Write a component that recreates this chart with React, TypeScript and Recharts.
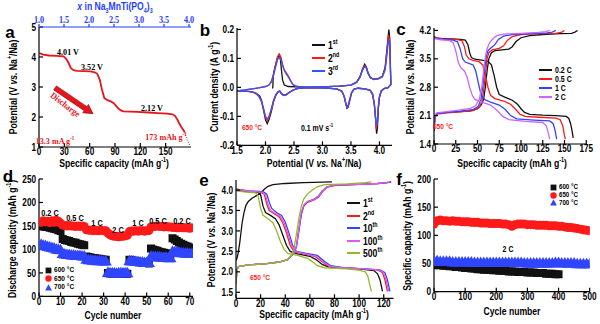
import React from 'react';
import {
  LineChart,
  Line,
  ScatterChart,
  Scatter,
  XAxis,
  YAxis,
  ZAxis,
  ReferenceLine,
} from 'recharts';

const SANS = "'Liberation Sans', Arial, sans-serif";
const SERIF = "'Liberation Serif', 'Times New Roman', serif";
const SX = 0.82; // the figure's lettering is narrow

const RED = '#ff1a1a';
const BLUE = '#2f45ff';
const BLACK = '#111111';
const VIOLET = '#cc66ff';
const MAGENTA = '#dd5ce8';
const OLIVE = '#94b82a';
const TOPBLUE = '#1f3fff';

// ---- (a) first discharge, 13.3 mA/g
const aCurve = [
  [0.5, 4.13], [5, 4.08], [12, 4.05], [21, 4.04], [29, 4.02], [32, 3.95], [35, 3.8], [38, 3.62],
  [41, 3.56], [45, 3.54], [53, 3.53], [61, 3.52], [66, 3.49], [69, 3.44], [72, 3.24], [74.6, 2.91],
  [77.4, 2.63], [81, 2.56], [85, 2.52], [88.5, 2.46], [91, 2.38], [94, 2.28], [97, 2.22], [100, 2.19],
  [116, 2.17], [130, 2.15], [140, 2.13], [152, 2.11], [158, 2.09], [161, 2.04], [164, 1.91],
  [166, 1.79], [168, 1.69], [170.5, 1.58], [172.6, 1.49],
];
const aTopTicks = [1.0, 1.5, 2.0, 2.5, 3.0, 3.5, 4.0];

// ---- (b) CV, 0.1 mV/s
const cv1 = [
  [2.125, -0.004], [2.13, 0.005], [2.135, 0.04], [2.15, 0.055], [2.18, 0.08], [2.21, 0.102], [2.24, 0.112],
  [2.26, 0.1], [2.28, 0.06], [2.3, 0.025], [2.33, 0.008], [2.4, 0.003], [2.55, 0.002], [2.7, 0.001],
  [3.0, 0.002], [3.3, 0.004], [3.5, 0.008], [3.6, 0.018], [3.66, 0.038], [3.7, 0.062], [3.74, 0.08],
  [3.77, 0.07], [3.8, 0.05], [3.84, 0.034], [3.9, 0.028], [3.98, 0.03], [4.05, 0.038], [4.1, 0.07],
  [4.13, 0.13], [4.165, 0.2], [4.18, 0.17], [4.19, 0.09], [4.2, 0.01],
  [4.15, -0.001], [4.08, -0.004], [4.03, -0.014], [4.0, -0.035], [3.98, -0.075], [3.965, -0.14],
  [3.95, -0.16], [3.935, -0.115], [3.91, -0.06], [3.88, -0.025], [3.84, -0.011], [3.75, -0.005],
  [3.62, -0.003], [3.55, -0.007], [3.51, -0.02], [3.48, -0.044], [3.45, -0.068], [3.43, -0.072],
  [3.41, -0.057], [3.38, -0.031], [3.34, -0.013], [3.25, -0.005], [3.0, -0.002], [2.7, -0.002],
  [2.55, -0.004], [2.48, -0.01], [2.42, -0.017], [2.36, -0.025], [2.32, -0.027], [2.28, -0.021],
  [2.25, -0.013], [2.22, -0.016], [2.18, -0.028], [2.14, -0.05], [2.1, -0.085], [2.06, -0.112],
  [2.03, -0.125], [2.0, -0.112], [1.97, -0.082], [1.93, -0.045], [1.9, -0.03], [1.87, -0.026],
  [1.83, -0.02], [1.75, -0.015], [1.6, -0.013], [1.5, -0.012],
];
const cv2 = [
  [1.5, -0.012], [1.6, -0.01], [1.7, -0.007], [1.8, -0.004], [1.9, -0.001], [2.0, 0.003], [2.06, 0.008],
  [2.1, 0.02], [2.14, 0.045], [2.18, 0.08], [2.21, 0.105], [2.24, 0.116], [2.27, 0.105], [2.3, 0.08],
  [2.33, 0.06], [2.36, 0.052], [2.4, 0.04], [2.44, 0.024], [2.48, 0.01], [2.55, 0.003], [2.7, 0.001],
  [3.0, 0.002], [3.3, 0.004], [3.5, 0.008], [3.6, 0.018], [3.66, 0.036], [3.7, 0.06], [3.74, 0.075],
  [3.77, 0.068], [3.8, 0.05], [3.84, 0.034], [3.9, 0.028], [3.98, 0.03], [4.05, 0.037], [4.1, 0.065],
  [4.13, 0.12], [4.16, 0.18], [4.18, 0.16], [4.19, 0.085], [4.2, 0.01],
  [4.15, -0.001], [4.08, -0.004], [4.03, -0.013], [4.0, -0.032], [3.98, -0.07], [3.96, -0.13],
  [3.945, -0.145], [3.93, -0.105], [3.91, -0.058], [3.88, -0.024], [3.84, -0.011], [3.75, -0.005],
  [3.62, -0.003], [3.55, -0.007], [3.51, -0.019], [3.48, -0.042], [3.45, -0.065], [3.43, -0.07],
  [3.41, -0.056], [3.38, -0.031], [3.34, -0.013], [3.25, -0.005], [3.0, -0.002], [2.7, -0.002],
  [2.55, -0.004], [2.48, -0.01], [2.42, -0.018], [2.36, -0.026], [2.32, -0.028], [2.28, -0.022],
  [2.25, -0.013], [2.22, -0.015], [2.18, -0.026], [2.14, -0.048], [2.1, -0.08], [2.06, -0.105],
  [2.03, -0.116], [2.0, -0.105], [1.97, -0.08], [1.93, -0.05], [1.89, -0.033], [1.85, -0.025],
  [1.8, -0.018], [1.7, -0.014], [1.6, -0.013], [1.5, -0.012],
];
const cv3 = [
  [1.5, -0.012], [1.6, -0.01], [1.7, -0.007], [1.8, -0.004], [1.9, -0.001], [2.0, 0.003], [2.06, 0.008],
  [2.1, 0.018], [2.14, 0.04], [2.18, 0.072], [2.21, 0.095], [2.24, 0.104], [2.27, 0.095], [2.3, 0.075],
  [2.33, 0.058], [2.36, 0.047], [2.4, 0.036], [2.44, 0.022], [2.48, 0.01], [2.55, 0.003], [2.7, 0.001],
  [3.0, 0.002], [3.3, 0.004], [3.5, 0.008], [3.6, 0.018], [3.66, 0.035], [3.7, 0.058], [3.74, 0.072],
  [3.77, 0.066], [3.8, 0.048], [3.84, 0.033], [3.9, 0.027], [3.98, 0.029], [4.05, 0.036], [4.1, 0.06],
  [4.13, 0.11], [4.16, 0.165], [4.18, 0.15], [4.19, 0.08], [4.2, 0.01],
  [4.15, -0.001], [4.08, -0.004], [4.03, -0.012], [4.0, -0.03], [3.98, -0.065], [3.96, -0.12],
  [3.945, -0.135], [3.93, -0.1], [3.91, -0.055], [3.88, -0.022], [3.84, -0.01], [3.75, -0.005],
  [3.62, -0.003], [3.55, -0.007], [3.51, -0.018], [3.48, -0.04], [3.45, -0.062], [3.43, -0.068],
  [3.41, -0.055], [3.38, -0.03], [3.34, -0.013], [3.25, -0.005], [3.0, -0.002], [2.7, -0.002],
  [2.55, -0.004], [2.48, -0.01], [2.42, -0.018], [2.36, -0.026], [2.32, -0.028], [2.28, -0.022],
  [2.25, -0.013], [2.22, -0.015], [2.18, -0.025], [2.14, -0.045], [2.1, -0.075], [2.06, -0.1],
  [2.03, -0.11], [2.0, -0.1], [1.97, -0.075], [1.93, -0.048], [1.89, -0.032], [1.85, -0.022],
  [1.8, -0.017], [1.7, -0.014], [1.6, -0.013], [1.5, -0.012],
];

// ---- (c) rate charge/discharge curves
const c02dis = [[0, 4.05], [3, 4.01], [10, 4.0], [20, 3.99], [30, 3.98], [36, 3.96], [39, 3.85], [41, 3.65], [43, 3.53], [47, 3.49], [55, 3.47], [62, 3.44], [66, 3.35], [69, 3.1], [72, 2.8], [75, 2.62], [82, 2.55], [90, 2.48], [96, 2.38], [100, 2.27], [104, 2.18], [110, 2.13], [125, 2.11], [140, 2.1], [152, 2.08], [155, 2.03], [157, 1.9], [158.5, 1.75], [160, 1.55]];
const c05dis = [[0, 4.03], [10, 3.99], [25, 3.98], [32, 3.95], [35, 3.8], [37, 3.6], [40, 3.5], [45, 3.46], [52, 3.43], [56, 3.35], [59, 3.1], [62, 2.8], [65, 2.6], [70, 2.52], [80, 2.46], [88, 2.38], [94, 2.25], [99, 2.13], [105, 2.08], [120, 2.06], [140, 2.04], [145, 2.0], [148, 1.85], [150, 1.6], [151, 1.52]];
const c1dis = [[0, 4.02], [10, 3.98], [22, 3.96], [27, 3.92], [30, 3.75], [33, 3.5], [36, 3.42], [40, 3.39], [45, 3.35], [48, 3.2], [51, 2.9], [54, 2.62], [58, 2.5], [65, 2.43], [75, 2.36], [82, 2.25], [88, 2.1], [95, 2.02], [115, 1.99], [133, 1.97], [137, 1.9], [139, 1.75], [141, 1.52]];
const c2dis = [[0, 4.0], [8, 3.97], [18, 3.95], [22, 3.9], [25, 3.7], [28, 3.4], [31, 3.28], [35, 3.2], [38, 3.05], [41, 2.8], [44, 2.6], [47, 2.5], [55, 2.43], [65, 2.36], [73, 2.22], [79, 2.08], [86, 2.0], [105, 1.96], [125, 1.93], [129, 1.85], [131, 1.7], [133, 1.52]];
const c02chg = [[0, 1.72], [1, 2.0], [2, 2.12], [5, 2.16], [15, 2.18], [30, 2.2], [42, 2.22], [50, 2.27], [54, 2.35], [57, 2.5], [59, 2.8], [61, 3.2], [63, 3.5], [66, 3.65], [70, 3.7], [78, 3.72], [86, 3.74], [90, 3.8], [94, 3.92], [100, 4.02], [110, 4.07], [125, 4.1], [145, 4.12], [158, 4.13], [162, 4.16], [165, 4.2]];
const c05chg = [[0, 1.74], [1, 2.05], [3, 2.14], [15, 2.17], [30, 2.19], [45, 2.22], [52, 2.3], [55, 2.45], [57, 2.7], [59, 3.1], [61, 3.5], [63, 3.65], [67, 3.72], [75, 3.76], [80, 3.82], [84, 3.95], [90, 4.05], [100, 4.1], [120, 4.12], [140, 4.13], [147, 4.16], [150, 4.2]];
const c1chg = [[0, 1.76], [1, 2.07], [3, 2.15], [15, 2.18], [30, 2.21], [45, 2.25], [51, 2.33], [54, 2.5], [56, 2.8], [58, 3.2], [60, 3.55], [62, 3.7], [66, 3.78], [70, 3.85], [74, 3.98], [80, 4.06], [90, 4.1], [110, 4.12], [130, 4.14], [136, 4.16], [140, 4.2]];
const c2chg = [[0, 1.78], [1, 2.1], [3, 2.17], [15, 2.2], [30, 2.24], [42, 2.28], [48, 2.35], [52, 2.5], [55, 2.8], [57, 3.2], [59, 3.55], [61, 3.75], [64, 3.9], [68, 4.0], [72, 4.07], [80, 4.11], [100, 4.13], [120, 4.15], [128, 4.17], [133, 4.2]];
const cRates = ['0.2 C', '0.5 C', '1 C', '2 C'];

// ---- (d) rate capability, cycles 1..71
const d600 = [150, 149, 148, 148, 146, 145, 144, 143, 141, 139, 122, 120, 119, 118, 116, 115, 114, 112, 111, 110, 109, 85, 84, 83, 82, 81, 80, 80, 79, 78, 78, 50, 49, 49, 49, 48, 48, 48, 48, 48, 48, 78, 77, 76, 75, 74, 73, 72, 72, 71, 70, 102, 100, 98, 97, 95, 94, 93, 92, 90, 89, 124, 121, 118, 115, 112, 110, 108, 106, 104, 102];
const d650 = [158, 161, 159, 160, 157, 161, 158, 162, 160, 156, 152, 151, 150, 151, 150, 150, 149, 150, 149, 150, 149, 142, 141, 141, 140, 141, 140, 140, 141, 140, 140, 135, 131, 129, 128, 128, 127, 128, 128, 129, 130, 138, 139, 139, 140, 139, 140, 140, 139, 140, 140, 148, 149, 149, 150, 149, 149, 148, 149, 148, 148, 147, 147, 146, 146, 147, 146, 146, 146, 145, 146];
const d700 = [109, 107, 106, 104, 103, 102, 101, 99, 98, 97, 89, 88, 87, 87, 86, 86, 85, 85, 85, 84, 84, 77, 76, 76, 75, 75, 74, 74, 74, 73, 73, 49, 48, 48, 48, 47, 48, 48, 48, 48, 48, 74, 73, 73, 72, 72, 71, 71, 70, 70, 70, 84, 83, 83, 82, 82, 81, 81, 81, 80, 80, 94, 93, 93, 92, 91, 91, 90, 90, 89, 89];
const dRateLabels = ['0.2 C', '0.5 C', '1 C', '2 C', '1 C', '0.5 C', '0.2 C'];

// ---- (e) cycling curves at 650 C
const e1dis = [[0, 4.0], [10, 3.96], [18, 3.94], [20, 3.88], [22, 3.6], [24, 3.45], [28, 3.38], [32, 3.3], [35, 3.15], [38, 2.9], [41, 2.65], [44, 2.5], [50, 2.44], [60, 2.38], [65, 2.3], [70, 2.18], [75, 2.12], [85, 2.09], [100, 2.07], [112, 2.03], [115, 1.95], [117, 1.8], [119, 1.52]];
const e2dis = [[0, 4.02], [10, 3.97], [20, 3.95], [23, 3.9], [25, 3.65], [27, 3.5], [31, 3.42], [35, 3.35], [38, 3.2], [41, 2.95], [44, 2.65], [47, 2.5], [55, 2.44], [64, 2.38], [70, 2.25], [75, 2.14], [85, 2.1], [100, 2.08], [115, 2.05], [119, 1.98], [121, 1.8], [123, 1.52]];
const e10dis = [[0, 4.02], [10, 3.98], [22, 3.96], [25, 3.9], [27, 3.7], [29, 3.55], [33, 3.45], [37, 3.38], [40, 3.22], [43, 2.95], [46, 2.65], [49, 2.5], [57, 2.45], [66, 2.4], [72, 2.25], [77, 2.15], [87, 2.1], [100, 2.08], [117, 2.05], [121, 1.98], [123, 1.8], [125, 1.52]];
const e100dis = [[0, 4.02], [10, 3.97], [21, 3.95], [24, 3.88], [26, 3.65], [28, 3.5], [32, 3.43], [36, 3.36], [39, 3.2], [42, 2.95], [45, 2.65], [48, 2.5], [56, 2.44], [65, 2.38], [71, 2.24], [76, 2.14], [86, 2.1], [100, 2.08], [116, 2.05], [120, 1.98], [122, 1.8], [124, 1.52]];
const e500dis = [[0, 3.98], [8, 3.95], [16, 3.93], [18, 3.85], [20, 3.55], [22, 3.38], [26, 3.3], [30, 3.2], [33, 3.0], [36, 2.75], [39, 2.55], [42, 2.45], [50, 2.4], [58, 2.33], [62, 2.25], [66, 2.15], [72, 2.1], [90, 2.07], [100, 2.04], [105, 2.0], [107, 1.9], [108.5, 1.7], [110, 1.52]];
const e1chg = [[0, 2.28], [1, 2.35], [2, 2.5], [3, 2.7], [4, 2.95], [5, 3.2], [6.5, 3.45], [8, 3.62], [10, 3.72], [13, 3.8], [17, 3.87], [20, 3.93], [23, 4.02], [26, 4.09], [30, 4.13], [40, 4.16], [55, 4.18], [78, 4.2]];
const e2chg = [[0, 1.72], [0.8, 2.05], [2, 2.13], [10, 2.17], [25, 2.2], [35, 2.24], [42, 2.3], [46, 2.42], [49, 2.6], [51, 3.0], [53, 3.4], [55, 3.6], [58, 3.7], [63, 3.75], [67, 3.82], [70, 3.95], [74, 4.07], [80, 4.11], [100, 4.14], [115, 4.16], [123, 4.18], [126, 4.2]];
const e10chg = [[0, 1.72], [0.8, 2.05], [2, 2.13], [10, 2.17], [25, 2.2], [35, 2.24], [42, 2.3], [46, 2.42], [49, 2.6], [51, 3.0], [53, 3.4], [55, 3.62], [58, 3.72], [63, 3.77], [67, 3.85], [70, 3.98], [74, 4.08], [80, 4.12], [100, 4.14], [115, 4.16], [123, 4.18], [126, 4.2]];
const e100chg = [[0, 1.72], [0.8, 2.05], [2, 2.13], [10, 2.17], [25, 2.2], [35, 2.24], [42, 2.3], [46, 2.42], [49, 2.62], [51, 3.05], [53, 3.45], [55, 3.63], [58, 3.72], [63, 3.76], [67, 3.84], [70, 3.97], [74, 4.08], [80, 4.12], [100, 4.14], [115, 4.16], [122, 4.18], [125, 4.2]];
const e500chg = [[0, 1.72], [0.8, 2.05], [2, 2.13], [10, 2.17], [25, 2.2], [35, 2.24], [42, 2.3], [45, 2.4], [47, 2.55], [49, 2.9], [51, 3.3], [53, 3.6], [55, 3.78], [58, 3.9], [62, 4.0], [66, 4.08], [72, 4.13], [90, 4.15], [105, 4.18], [110, 4.2]];

// ---- (f) long cycling at 2 C, every 10th cycle
const f600 = [47, 48, 47, 46, 46, 45, 45, 44, 44, 43, 42, 42, 41, 41, 40, 40, 39, 39, 39, 38, 38, 37, 37, 37, 36, 36, 36, 35, 35, 35, 34, 34, 34, 33, 33, 33, 32, 32, 32, 31, 31];
const f650 = [120, 126, 127, 126, 126, 125, 126, 125, 125, 124, 124, 124, 123, 123, 123, 122, 122, 122, 121, 121, 121, 121, 120, 120, 119, 116, 119, 120, 120, 120, 119, 119, 119, 118, 118, 118, 118, 117, 117, 117, 116, 116, 115, 114, 114, 113, 112, 111, 110, 109, 108];
const f700 = [53, 53, 52, 52, 52, 52, 51, 51, 51, 51, 51, 51, 51, 50, 50, 50, 50, 50, 50, 50, 50, 50, 50, 50, 50, 50, 50, 50, 50, 49, 49, 49, 49, 49, 49, 49, 49, 49, 49, 50, 50, 49, 49, 49, 49, 49, 48, 48, 48, 48, 48];
const tempLabels = ['600 °C', '650 °C', '700 °C'];

const pts = (a: number[][]) => a.map(([x, y]) => ({ x, y }));
const byCycle = (a: number[], step = 1, start = 1) => a.map((y, i) => ({ x: start + i * step, y }));

// plot frames in page pixels
type Box = { L: number; T: number; R: number; B: number };
const boxA: Box = { L: 39, T: 27.3, R: 191, B: 147.3 };
const boxB: Box = { L: 236.7, T: 28, R: 391.7, B: 145.3 };
const boxC: Box = { L: 434, T: 28.3, R: 586.7, B: 144.3 };
const boxD: Box = { L: 39.3, T: 179.3, R: 193.3, B: 296.7 };
const boxE: Box = { L: 235.7, T: 180, R: 393.3, B: 298.3 };
const boxF: Box = { L: 434.3, T: 179.3, R: 590, B: 292 };

const YW = 30;
const XH = 18;
const MT = 8;
const MR = 10;
const f1 = (v: number) => v.toFixed(1);

// narrow tick label, drawn as plain svg text
const mkTick = (pos: 'b' | 'l' | 't', fmt?: (v: number) => string, color = '#000', family = SANS, size = 10) => (p: any) => {
  const { x, y, payload } = p;
  const anchor = pos === 'l' ? 'end' : 'middle';
  const dy = pos === 'b' ? '0.72em' : pos === 'l' ? '0.36em' : '0';
  const label = fmt ? fmt(payload.value) : String(payload.value);
  return (
    <text x={0} y={0} dy={dy} textAnchor={anchor} transform={`translate(${x},${y}) scale(${SX},1)`} fontSize={size} fontWeight={700} fontFamily={family} fill={color}>
      {label}
    </text>
  );
};

function frame(o: { xd: number[]; xt: number[]; yd: number[]; yt: number[]; xf?: any; yf?: any }) {
  const common = { type: 'number' as const, allowDataOverflow: true, interval: 0 as const, stroke: '#000', strokeWidth: 1.2, tickSize: -4 };
  return [
    <XAxis key="xb" dataKey="x" {...common} domain={o.xd} ticks={o.xt} height={XH} tickMargin={5} tick={mkTick('b', o.xf)} />,
    <YAxis key="yl" dataKey="y" {...common} domain={o.yd} ticks={o.yt} width={YW} tickMargin={7} tick={mkTick('l', o.yf)} />,
    <YAxis key="yr" yAxisId="r" orientation="right" {...common} domain={o.yd} ticks={o.yt} width={0} tick={false} />,
    <XAxis key="xt" xAxisId="t" orientation="top" {...common} domain={o.xd} ticks={o.xt} height={0} tick={false} />,
  ];
}

function Panel({ b, th = 0, scatter = false, children }: { b: Box; th?: number; scatter?: boolean; children: React.ReactNode }) {
  const mt = th ? 0 : MT;
  const width = YW + (b.R - b.L) + MR;
  const height = mt + th + (b.B - b.T) + XH;
  const margin = { top: mt, right: MR, bottom: 0, left: 0 };
  const Chart: any = scatter ? ScatterChart : LineChart;
  return (
    <div style={{ position: 'absolute', left: b.L - YW, top: b.T - th - mt }}>
      <Chart width={width} height={height} margin={margin}>
        {children}
      </Chart>
    </div>
  );
}

function Txt({ x, y, rot = 0, size = 10.5, color = '#000', family = SANS, italic = false, left = false, sx = SX, children }: any) {
  return (
    <div
      style={{
        position: 'absolute',
        left: x,
        top: y,
        transform: `translate(${left ? '0' : '-50%'},-50%) rotate(${rot}deg) scaleX(${sx})`,
        transformOrigin: left ? 'left center' : 'center',
        fontSize: size,
        fontWeight: 700,
        fontStyle: italic ? 'italic' : 'normal',
        color,
        fontFamily: family,
        whiteSpace: 'nowrap',
        lineHeight: 1,
      }}
    >
      {children}
    </div>
  );
}

const Sup = ({ children }: any) => <sup style={{ fontSize: '0.62em', lineHeight: 0 }}>{children}</sup>;
const Sub = ({ children }: any) => <sub style={{ fontSize: '0.62em', lineHeight: 0 }}>{children}</sub>;

const PotLabel = () => (
  <>
    Potential (V <i>vs.</i> Na<Sup>+</Sup>/Na)
  </>
);
const CapLabel = () => (
  <>
    Specific capacity (mAh g<Sup>-1</Sup>)
  </>
);

function LegLine({ x, y, color, label, size = 9.5 }: any) {
  return (
    <>
      <div style={{ position: 'absolute', left: x, top: y - 1, width: 13, height: 2, background: color }} />
      <Txt x={x + 16} y={y} left size={size}>
        {label}
      </Txt>
    </>
  );
}

function LegMark({ x, y, kind, color, label, size = 7.5 }: any) {
  return (
    <>
      <svg style={{ position: 'absolute', left: x - 3.5, top: y - 3.5 }} width={7} height={7}>
        {kind === 'square' && <rect x={0.6} y={0.6} width={5.8} height={5.8} fill={color} />}
        {kind === 'circle' && <circle cx={3.5} cy={3.5} r={3.2} fill={color} />}
        {kind === 'triangle' && <polygon points="3.5,0.2 6.9,6.6 0.1,6.6" fill={color} />}
      </svg>
      <Txt x={x + 6} y={y} left size={size}>
        {label}
      </Txt>
    </>
  );
}

const arrowShape = (p: any) => {
  const { x1, y1, x2, y2 } = p;
  const ang = (Math.atan2(y2 - y1, x2 - x1) * 180) / Math.PI;
  const len = Math.hypot(x2 - x1, y2 - y1);
  return (
    <g transform={`translate(${x1},${y1}) rotate(${ang})`}>
      <polygon
        points={`0,-2.4 ${len - 9},-2.4 ${len - 9},-5 ${len},0 ${len - 9},5 ${len - 9},2.4 0,2.4`}
        fill="#e8141c"
        stroke="#9a0000"
        strokeWidth={0.6}
      />
    </g>
  );
};

const line = (data: number[][], color: string, w = 1.3) => (
  <Line data={pts(data)} dataKey="y" stroke={color} strokeWidth={w} dot={false} type="linear" isAnimationActive={false} />
);

export default function App() {
  const rateCols = [BLACK, RED, BLUE, VIOLET];
  const cycCols = [BLACK, RED, BLUE, MAGENTA, OLIVE];
  return (
    <div style={{ position: 'fixed', left: 0, top: 0, width: 600, height: 324, background: '#fff', overflow: 'hidden', fontFamily: SANS }}>
      {/* (a) */}
      <Panel b={boxA} th={22}>
        <XAxis dataKey="x" type="number" allowDataOverflow interval={0} stroke="#000" strokeWidth={1.2} tickSize={-4} domain={[0, 180]} ticks={[0, 30, 60, 90, 120, 150]} height={XH} tickMargin={5} tick={mkTick('b')} />
        <YAxis dataKey="y" type="number" allowDataOverflow interval={0} stroke="#000" strokeWidth={1.2} tickSize={-4} domain={[1, 5]} ticks={[1, 2, 3, 4, 5]} width={YW} tickMargin={7} tick={mkTick('l')} />
        <YAxis yAxisId="r" orientation="right" type="number" allowDataOverflow stroke="#000" strokeWidth={1.2} tickSize={-4} domain={[1, 5]} ticks={[1, 2, 3, 4, 5]} width={0} tick={false} />
        <XAxis xAxisId="t" dataKey="x" orientation="top" type="number" allowDataOverflow interval={0} stroke={TOPBLUE} strokeWidth={1.2} tickSize={3} domain={[1, 4.04]} ticks={aTopTicks} height={22} tickMargin={1} tick={mkTick('t', f1, TOPBLUE, SERIF, 10)} />
        {/* invisible series that carries the top (x in Na3MnTi(PO4)3) scale */}
        <Line xAxisId="t" data={aTopTicks.map((x) => ({ x, y: 1 }))} dataKey="y" stroke="none" dot={false} legendType="none" isAnimationActive={false} />
        {line(aCurve, '#e8141c', 1.8)}
        <ReferenceLine segment={[{ x: 172, y: 1.48 }, { x: 179, y: 1.02 }]} stroke="#e8141c" strokeDasharray="1 1.5" strokeWidth={1} />
        <ReferenceLine segment={[{ x: 19, y: 2.97 }, { x: 64, y: 2.11 }]} shape={arrowShape} />
      </Panel>
      <Txt x={10} y={32} size={17} sx={1}>a</Txt>
      <Txt x={115} y={6} color={TOPBLUE}>
        <i>x</i> in Na<Sub>3</Sub>MnTi(PO<Sub>4</Sub>)<Sub>3</Sub>
      </Txt>
      <Txt x={114} y={163}><CapLabel /></Txt>
      <Txt x={13} y={87} rot={-90}><PotLabel /></Txt>
      <Txt x={68} y={52} family={SERIF} size={9} sx={0.9}>4.01 V</Txt>
      <Txt x={92} y={67} family={SERIF} size={9} sx={0.9}>3.52 V</Txt>
      <Txt x={152} y={108} family={SERIF} size={9} sx={0.9}>2.12 V</Txt>
      <Txt x={65} y={105} rot={37} family={SERIF} size={9} sx={0.9} color="#e8141c">Discharge</Txt>
      <Txt x={55} y={141} family={SERIF} size={9} sx={0.9} color="#e8141c">13.3 mA g<Sup>-1</Sup></Txt>
      <Txt x={166} y={137} family={SERIF} size={9} sx={0.9} color="#e8141c">173 mAh g<Sup>-1</Sup></Txt>

      {/* (b) */}
      <Panel b={boxB}>
        {frame({ xd: [1.5, 4.22], xt: [1.5, 2.0, 2.5, 3.0, 3.5, 4.0], yd: [-0.2, 0.205], yt: [-0.2, -0.1, 0, 0.1, 0.2], xf: f1, yf: f1 })}
        {line(cv1, BLACK)}
        {line(cv2, RED)}
        {line(cv3, '#3355ff')}
      </Panel>
      <Txt x={205} y={30} size={17} sx={1}>b</Txt>
      <Txt x={214} y={87} rot={-90}>Current density (A g<Sup>-1</Sup>)</Txt>
      <Txt x={314} y={163}><PotLabel /></Txt>
      <LegLine x={312} y={45} color={BLACK} label={<>1<Sup>st</Sup></>} size={10.5} />
      <LegLine x={312} y={58} color={RED} label={<>2<Sup>nd</Sup></>} size={10.5} />
      <LegLine x={312} y={71} color="#3355ff" label={<>3<Sup>rd</Sup></>} size={10.5} />
      <Txt x={252} y={128} size={8} color={RED}>650 °C</Txt>
      <Txt x={317} y={128} size={8.5}>0.1 mV s<Sup>-1</Sup></Txt>

      {/* (c) */}
      <Panel b={boxC}>
        {frame({ xd: [0, 175.5], xt: [0, 25, 50, 75, 100, 125, 150, 175], yd: [1.4, 4.26], yt: [1.4, 2.1, 2.8, 3.5, 4.2], yf: f1 })}
        {line(c02dis, BLACK)}
        {line(c02chg, BLACK)}
        {line(c05dis, RED)}
        {line(c05chg, RED)}
        {line(c1dis, BLUE)}
        {line(c1chg, BLUE)}
        {line(c2dis, VIOLET)}
        {line(c2chg, VIOLET)}
      </Panel>
      <Txt x={401} y={29} size={17} sx={1}>c</Txt>
      <Txt x={410} y={87} rot={-90}><PotLabel /></Txt>
      <Txt x={512} y={163}><CapLabel /></Txt>
      {cRates.map((r, i) => (
        <LegLine key={r} x={539} y={70 + i * 9} color={rateCols[i]} label={r} size={8.5} />
      ))}
      <Txt x={443} y={127} size={8} color={RED}>650 °C</Txt>

      {/* (d) */}
      <Panel b={boxD} scatter>
        {frame({ xd: [0, 71.5], xt: [0, 10, 20, 30, 40, 50, 60, 70], yd: [0, 250], yt: [0, 50, 100, 150, 200, 250] })}
        <ZAxis range={[30, 30]} />
        <Scatter data={byCycle(d600)} fill={BLACK} shape="square" isAnimationActive={false} />
        <Scatter data={byCycle(d650)} fill={RED} shape="circle" isAnimationActive={false} />
        <Scatter data={byCycle(d700)} fill={BLUE} shape="triangle" isAnimationActive={false} />
      </Panel>
      <Txt x={8} y={176} size={17} sx={1}>d</Txt>
      <Txt x={12} y={239} rot={-90}>Discharge capacity (mAh g<Sup>-1</Sup>)</Txt>
      <Txt x={113} y={315}>Cycle number</Txt>
      {dRateLabels.map((r, i) => (
        <Txt key={i} x={[50, 75, 97, 118, 138, 158, 182][i]} y={[213, 218, 223, 230, 223, 221, 221][i]} size={9}>
          {r}
        </Txt>
      ))}
      <LegMark x={48.3} y={270} kind="square" color={BLACK} label={tempLabels[0]} size={8} />
      <LegMark x={48.3} y={278.5} kind="circle" color={RED} label={tempLabels[1]} size={8} />
      <LegMark x={48.3} y={287.3} kind="triangle" color={BLUE} label={tempLabels[2]} size={8} />

      {/* (e) */}
      <Panel b={boxE}>
        {frame({ xd: [0, 128], xt: [0, 20, 40, 60, 80, 100, 120], yd: [1.353, 4.245], yt: [1.5, 2.0, 2.5, 3.0, 3.5, 4.0], yf: f1 })}
        {line(e1dis, BLACK)}
        {line(e1chg, BLACK)}
        {line(e2dis, RED)}
        {line(e2chg, RED)}
        {line(e10dis, BLUE)}
        {line(e10chg, BLUE)}
        {line(e100dis, MAGENTA)}
        {line(e100chg, MAGENTA)}
        {line(e500dis, OLIVE)}
        {line(e500chg, OLIVE)}
      </Panel>
      <Txt x={204} y={180} size={17} sx={1}>e</Txt>
      <Txt x={211} y={240} rot={-90}><PotLabel /></Txt>
      <Txt x={314} y={314}><CapLabel /></Txt>
      {['1', '2', '10', '100', '500'].map((n, i) => (
        <LegLine key={n} x={347} y={203.3 + i * 12.5} color={cycCols[i]} label={<>{n}<Sup>{['st', 'nd', 'th', 'th', 'th'][i]}</Sup></>} size={10.5} />
      ))}
      <Txt x={260} y={278} size={8} color={RED}>650 °C</Txt>

      {/* (f) */}
      <Panel b={boxF} scatter>
        {frame({ xd: [0, 500], xt: [0, 100, 200, 300, 400, 500], yd: [0, 200], yt: [0, 50, 100, 150, 200] })}
        <ZAxis range={[40, 40]} />
        <Scatter data={byCycle(f600, 10, 0)} fill={BLACK} shape="square" isAnimationActive={false} />
        <Scatter data={byCycle(f650, 10, 0)} fill={RED} shape="circle" isAnimationActive={false} />
        <Scatter data={byCycle(f700, 10, 0)} fill={BLUE} shape="triangle" isAnimationActive={false} />
      </Panel>
      <Txt x={399} y={179} size={17} sx={1}>f</Txt>
      <Txt x={407} y={236} rot={-90}>Specific capacity (mAh g<Sup>-1</Sup>)</Txt>
      <Txt x={512} y={311}>Cycle number</Txt>
      <Txt x={508} y={249} size={8.5}>2 C</Txt>
      <LegMark x={553} y={187.3} kind="square" color={BLACK} label={tempLabels[0]} />
      <LegMark x={553} y={195} kind="circle" color={RED} label={tempLabels[1]} />
      <LegMark x={553} y={202.7} kind="triangle" color={BLUE} label={tempLabels[2]} />
    </div>
  );
}
